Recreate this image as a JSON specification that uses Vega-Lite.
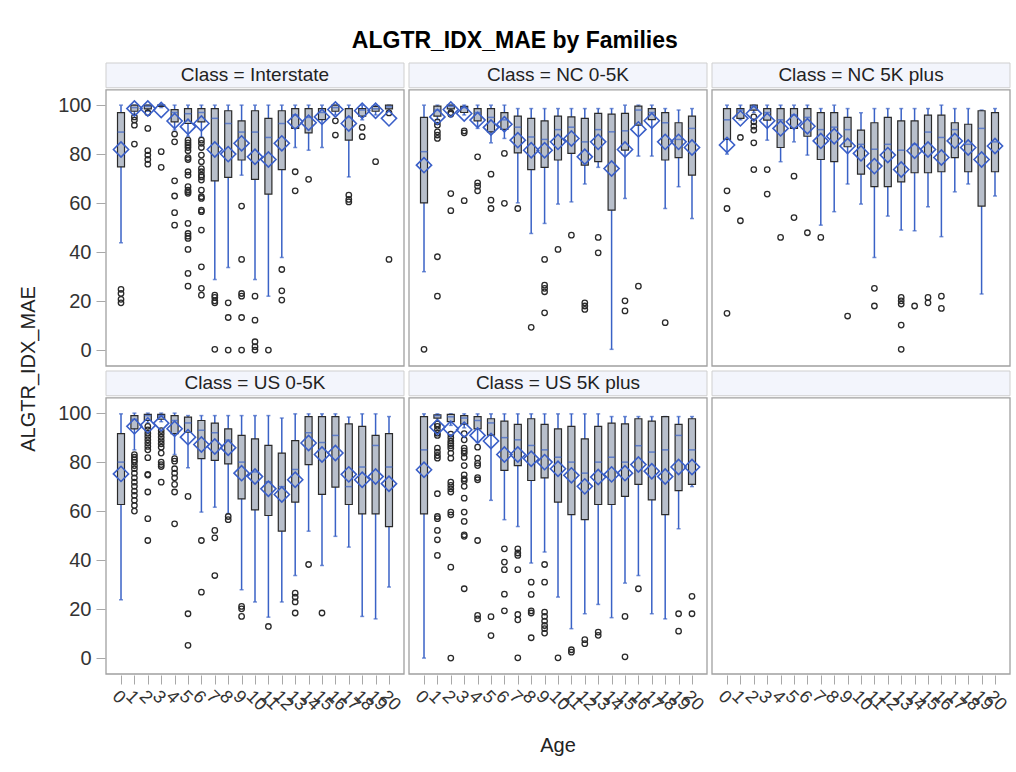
{
"$schema": "https://vega.github.io/schema/vega-lite/v6.json",
"background": "white",
"padding": {"left": 18, "top": 29, "right": 4, "bottom": 6},
"title": {"text": "ALGTR_IDX_MAE by Families", "fontSize": 23, "fontWeight": "bold", "font": "Liberation Sans", "color": "#000", "anchor": "middle", "frame": "bounds", "offset": 10},
"data": {"values": [
{"k":"s","c":"Interstate","lab":"Class = Interstate"},
{"k":"s","c":"NC 0-5K","lab":"Class = NC 0-5K"},
{"k":"s","c":"NC 5K plus","lab":"Class = NC 5K plus"},
{"k":"s","c":"US 0-5K","lab":"Class = US 0-5K"},
{"k":"s","c":"US 5K plus","lab":"Class = US 5K plus"},
{"k":"s","c":"","lab":""},
{"k":"b","c":"Interstate","a":0,"lo":43.8,"q1":74.8,"med":89,"q3":96.9,"hi":100,"mean":81.9},
{"k":"b","c":"Interstate","a":1,"lo":96,"q1":97.5,"med":99,"q3":100,"hi":100,"mean":98.6},
{"k":"b","c":"Interstate","a":2,"lo":97.5,"q1":98.5,"med":99.5,"q3":100,"hi":100,"mean":98.6},
{"k":"b","c":"Interstate","a":3,"lo":99,"q1":99.5,"med":100,"q3":100,"hi":100,"mean":98},
{"k":"b","c":"Interstate","a":4,"lo":89.8,"q1":93.2,"med":97,"q3":98.2,"hi":100,"mean":93.5},
{"k":"b","c":"Interstate","a":5,"lo":87.3,"q1":92.5,"med":96.5,"q3":98.6,"hi":100,"mean":91.2},
{"k":"b","c":"Interstate","a":6,"lo":87,"q1":93.2,"med":97,"q3":98.6,"hi":100,"mean":92.5},
{"k":"b","c":"Interstate","a":7,"lo":28.8,"q1":69.1,"med":94.6,"q3":98.6,"hi":100,"mean":81.9},
{"k":"b","c":"Interstate","a":8,"lo":33.7,"q1":70.5,"med":92.5,"q3":97.7,"hi":100,"mean":80},
{"k":"b","c":"Interstate","a":9,"lo":71.4,"q1":77.6,"med":89,"q3":93.6,"hi":100,"mean":84.4},
{"k":"b","c":"Interstate","a":10,"lo":28.8,"q1":69.7,"med":89,"q3":97.7,"hi":100,"mean":78.9},
{"k":"b","c":"Interstate","a":11,"lo":22,"q1":63.7,"med":86.8,"q3":94.6,"hi":100,"mean":77.8},
{"k":"b","c":"Interstate","a":12,"lo":37.8,"q1":73.7,"med":92.5,"q3":97.7,"hi":100,"mean":84.4},
{"k":"b","c":"Interstate","a":13,"lo":82.7,"q1":90.5,"med":96,"q3":98.6,"hi":100,"mean":93.2},
{"k":"b","c":"Interstate","a":14,"lo":81.6,"q1":88.7,"med":95,"q3":98.6,"hi":100,"mean":92.8},
{"k":"b","c":"Interstate","a":15,"lo":82.7,"q1":94.1,"med":97,"q3":98.6,"hi":100,"mean":95.2},
{"k":"b","c":"Interstate","a":16,"lo":96,"q1":97.5,"med":99,"q3":100,"hi":100,"mean":98.2},
{"k":"b","c":"Interstate","a":17,"lo":70.7,"q1":85.7,"med":95,"q3":98.6,"hi":100,"mean":92.5},
{"k":"b","c":"Interstate","a":18,"lo":94,"q1":95.5,"med":98,"q3":98.6,"hi":100,"mean":97.7},
{"k":"b","c":"Interstate","a":19,"lo":96,"q1":97.5,"med":98.5,"q3":99.5,"hi":100,"mean":97.7},
{"k":"b","c":"Interstate","a":20,"lo":97.5,"q1":98.5,"med":99.3,"q3":100,"hi":100,"mean":94.6},
{"k":"b","c":"NC 0-5K","a":0,"lo":32,"q1":60.1,"med":81,"q3":95,"hi":100,"mean":75.5},
{"k":"b","c":"NC 0-5K","a":1,"lo":94,"q1":95.5,"med":98,"q3":99.6,"hi":100,"mean":95.2},
{"k":"b","c":"NC 0-5K","a":2,"lo":98,"q1":98.5,"med":99.5,"q3":100,"hi":100,"mean":98.2},
{"k":"b","c":"NC 0-5K","a":3,"lo":96,"q1":97,"med":99,"q3":99.5,"hi":100,"mean":96.6},
{"k":"b","c":"NC 0-5K","a":4,"lo":90.5,"q1":93.6,"med":97,"q3":98.6,"hi":100,"mean":93.9},
{"k":"b","c":"NC 0-5K","a":5,"lo":84.6,"q1":89.1,"med":95,"q3":98.6,"hi":100,"mean":90.9},
{"k":"b","c":"NC 0-5K","a":6,"lo":86.4,"q1":90.1,"med":94,"q3":96.9,"hi":100,"mean":92.2},
{"k":"b","c":"NC 0-5K","a":7,"lo":60.1,"q1":80.5,"med":91,"q3":95.5,"hi":98.6,"mean":85.7},
{"k":"b","c":"NC 0-5K","a":8,"lo":47.6,"q1":73.7,"med":87,"q3":94.6,"hi":98.6,"mean":81.6},
{"k":"b","c":"NC 0-5K","a":9,"lo":51.7,"q1":74.6,"med":86,"q3":93.6,"hi":98.6,"mean":81.6},
{"k":"b","c":"NC 0-5K","a":10,"lo":59.6,"q1":77.6,"med":90,"q3":95.5,"hi":98.6,"mean":85},
{"k":"b","c":"NC 0-5K","a":11,"lo":60.5,"q1":80.3,"med":91,"q3":95.2,"hi":98.6,"mean":86.4},
{"k":"b","c":"NC 0-5K","a":12,"lo":67.8,"q1":75.5,"med":85,"q3":94.6,"hi":98.6,"mean":78.9},
{"k":"b","c":"NC 0-5K","a":13,"lo":74.6,"q1":76.9,"med":90,"q3":96.6,"hi":98.6,"mean":85},
{"k":"b","c":"NC 0-5K","a":14,"lo":0.3,"q1":57.1,"med":89.1,"q3":96.3,"hi":98.6,"mean":74.1},
{"k":"b","c":"NC 0-5K","a":15,"lo":61.9,"q1":81.6,"med":89.5,"q3":96.6,"hi":100,"mean":81.9},
{"k":"b","c":"NC 0-5K","a":16,"lo":79.2,"q1":91.8,"med":98,"q3":99.6,"hi":100,"mean":90.1},
{"k":"b","c":"NC 0-5K","a":17,"lo":79.2,"q1":94.1,"med":97,"q3":98.6,"hi":100,"mean":93.6},
{"k":"b","c":"NC 0-5K","a":18,"lo":57.8,"q1":77.6,"med":92.8,"q3":96.9,"hi":98.6,"mean":85},
{"k":"b","c":"NC 0-5K","a":19,"lo":66.7,"q1":78.6,"med":86,"q3":92.8,"hi":98,"mean":85},
{"k":"b","c":"NC 0-5K","a":20,"lo":53.7,"q1":71.4,"med":90.5,"q3":95.5,"hi":98.6,"mean":82.7},
{"k":"b","c":"NC 5K plus","a":0,"lo":80,"q1":86,"med":94,"q3":98.6,"hi":100,"mean":83.7},
{"k":"b","c":"NC 5K plus","a":1,"lo":94,"q1":94.6,"med":98,"q3":98.6,"hi":100,"mean":94.6},
{"k":"b","c":"NC 5K plus","a":2,"lo":97,"q1":98,"med":99.5,"q3":100,"hi":100,"mean":96.6},
{"k":"b","c":"NC 5K plus","a":3,"lo":85.7,"q1":93.9,"med":97,"q3":98.6,"hi":100,"mean":93.6},
{"k":"b","c":"NC 5K plus","a":4,"lo":76.9,"q1":82.7,"med":94,"q3":98.6,"hi":100,"mean":90.5},
{"k":"b","c":"NC 5K plus","a":5,"lo":85,"q1":90.5,"med":96,"q3":98.6,"hi":100,"mean":93.2},
{"k":"b","c":"NC 5K plus","a":6,"lo":79.6,"q1":87.3,"med":95,"q3":98.6,"hi":100,"mean":91.4},
{"k":"b","c":"NC 5K plus","a":7,"lo":51,"q1":77.8,"med":90,"q3":96.9,"hi":98.6,"mean":85.4},
{"k":"b","c":"NC 5K plus","a":8,"lo":56.5,"q1":76.9,"med":91,"q3":96.9,"hi":100,"mean":87.3},
{"k":"b","c":"NC 5K plus","a":9,"lo":67.8,"q1":83,"med":90,"q3":95,"hi":98.6,"mean":83.3},
{"k":"b","c":"NC 5K plus","a":10,"lo":59.6,"q1":71.8,"med":84,"q3":89.8,"hi":96.9,"mean":80.3},
{"k":"b","c":"NC 5K plus","a":11,"lo":37.8,"q1":66.7,"med":82,"q3":92.8,"hi":98.6,"mean":75.1},
{"k":"b","c":"NC 5K plus","a":12,"lo":54.7,"q1":66.7,"med":84,"q3":95,"hi":98.6,"mean":79.6},
{"k":"b","c":"NC 5K plus","a":13,"lo":49,"q1":68.7,"med":81.6,"q3":93.6,"hi":98.6,"mean":73.7},
{"k":"b","c":"NC 5K plus","a":14,"lo":48.7,"q1":72.4,"med":84,"q3":93.6,"hi":98.6,"mean":81.4},
{"k":"b","c":"NC 5K plus","a":15,"lo":58.5,"q1":72.4,"med":89,"q3":95.9,"hi":98.6,"mean":81.9},
{"k":"b","c":"NC 5K plus","a":16,"lo":46.3,"q1":72.8,"med":86.8,"q3":95.9,"hi":100,"mean":78.6},
{"k":"b","c":"NC 5K plus","a":17,"lo":64.6,"q1":78.6,"med":90,"q3":92.8,"hi":98.6,"mean":85.4},
{"k":"b","c":"NC 5K plus","a":18,"lo":67.8,"q1":72.8,"med":84,"q3":92.2,"hi":98.6,"mean":82.7},
{"k":"b","c":"NC 5K plus","a":19,"lo":22.9,"q1":58.8,"med":90.5,"q3":97.7,"hi":98,"mean":77.8},
{"k":"b","c":"NC 5K plus","a":20,"lo":62.9,"q1":72.8,"med":85,"q3":96.9,"hi":98.6,"mean":83.3},
{"k":"b","c":"US 0-5K","a":0,"lo":23.8,"q1":62.7,"med":80,"q3":91.6,"hi":99.7,"mean":75.2},
{"k":"b","c":"US 0-5K","a":1,"lo":85,"q1":93.6,"med":97.5,"q3":99,"hi":100,"mean":94.6},
{"k":"b","c":"US 0-5K","a":2,"lo":96,"q1":97,"med":99,"q3":99.5,"hi":100,"mean":95},
{"k":"b","c":"US 0-5K","a":3,"lo":96.5,"q1":97.5,"med":99,"q3":99.5,"hi":100,"mean":95.9},
{"k":"b","c":"US 0-5K","a":4,"lo":83.1,"q1":91.6,"med":97,"q3":99,"hi":100,"mean":93.6},
{"k":"b","c":"US 0-5K","a":5,"lo":77.7,"q1":92.2,"med":96,"q3":98.4,"hi":99,"mean":90.2},
{"k":"b","c":"US 0-5K","a":6,"lo":59.6,"q1":81.4,"med":93,"q3":97,"hi":99,"mean":87.2},
{"k":"b","c":"US 0-5K","a":7,"lo":61.6,"q1":80.7,"med":92,"q3":95.9,"hi":99,"mean":86.4},
{"k":"b","c":"US 0-5K","a":8,"lo":59,"q1":79.3,"med":89,"q3":93.6,"hi":99,"mean":85.9},
{"k":"b","c":"US 0-5K","a":9,"lo":27.9,"q1":65,"med":80,"q3":90.9,"hi":99,"mean":75.5},
{"k":"b","c":"US 0-5K","a":10,"lo":22.9,"q1":60.5,"med":76,"q3":89.5,"hi":99,"mean":74.1},
{"k":"b","c":"US 0-5K","a":11,"lo":16.7,"q1":58.2,"med":72,"q3":86.8,"hi":99,"mean":69.1},
{"k":"b","c":"US 0-5K","a":12,"lo":22.9,"q1":51.8,"med":70,"q3":83.7,"hi":98,"mean":66.8},
{"k":"b","c":"US 0-5K","a":13,"lo":33.7,"q1":63.7,"med":77,"q3":88.8,"hi":99.7,"mean":72.8},
{"k":"b","c":"US 0-5K","a":14,"lo":51.8,"q1":79,"med":92,"q3":98.6,"hi":99.7,"mean":87.8},
{"k":"b","c":"US 0-5K","a":15,"lo":37.8,"q1":66.8,"med":88,"q3":98.6,"hi":99.7,"mean":83.1},
{"k":"b","c":"US 0-5K","a":16,"lo":49.7,"q1":69.8,"med":90.9,"q3":98.6,"hi":99.7,"mean":83.7},
{"k":"b","c":"US 0-5K","a":17,"lo":45.3,"q1":62.7,"med":70,"q3":95.6,"hi":98.4,"mean":75},
{"k":"b","c":"US 0-5K","a":18,"lo":17,"q1":58.9,"med":78,"q3":94.6,"hi":99.7,"mean":72.8},
{"k":"b","c":"US 0-5K","a":19,"lo":16,"q1":58.9,"med":86.8,"q3":90.9,"hi":99.7,"mean":74.1},
{"k":"b","c":"US 0-5K","a":20,"lo":29,"q1":53.7,"med":78,"q3":91.6,"hi":98.6,"mean":71.2},
{"k":"b","c":"US 5K plus","a":0,"lo":0,"q1":58.9,"med":85,"q3":98.6,"hi":99.7,"mean":76.9},
{"k":"b","c":"US 5K plus","a":1,"lo":97,"q1":98,"med":99,"q3":99.3,"hi":99.7,"mean":94.3},
{"k":"b","c":"US 5K plus","a":2,"lo":95,"q1":96.5,"med":98.5,"q3":99.5,"hi":99.7,"mean":93.6},
{"k":"b","c":"US 5K plus","a":3,"lo":94,"q1":95.5,"med":98,"q3":99,"hi":99.7,"mean":93.2},
{"k":"b","c":"US 5K plus","a":4,"lo":88,"q1":93.6,"med":97,"q3":98.6,"hi":99.7,"mean":90.9},
{"k":"b","c":"US 5K plus","a":5,"lo":64.4,"q1":91,"med":96,"q3":97.7,"hi":99.7,"mean":88.6},
{"k":"b","c":"US 5K plus","a":6,"lo":56.5,"q1":76.6,"med":90,"q3":96.7,"hi":99.7,"mean":83.1},
{"k":"b","c":"US 5K plus","a":7,"lo":53.7,"q1":78.6,"med":89.1,"q3":95.4,"hi":99.7,"mean":83.1},
{"k":"b","c":"US 5K plus","a":8,"lo":38.8,"q1":72.5,"med":86.8,"q3":97.7,"hi":99.7,"mean":81.4},
{"k":"b","c":"US 5K plus","a":9,"lo":43.3,"q1":73.6,"med":85,"q3":95.4,"hi":99.7,"mean":80},
{"k":"b","c":"US 5K plus","a":10,"lo":24.9,"q1":63.7,"med":82,"q3":93.6,"hi":99.7,"mean":77.3},
{"k":"b","c":"US 5K plus","a":11,"lo":12,"q1":58.6,"med":80,"q3":94.6,"hi":99.7,"mean":74.6},
{"k":"b","c":"US 5K plus","a":12,"lo":18.1,"q1":56.5,"med":75.5,"q3":89.5,"hi":99.7,"mean":70.1},
{"k":"b","c":"US 5K plus","a":13,"lo":21.9,"q1":62.7,"med":80,"q3":94.6,"hi":99.7,"mean":73.9},
{"k":"b","c":"US 5K plus","a":14,"lo":16.5,"q1":62.7,"med":82,"q3":95.9,"hi":98.6,"mean":75},
{"k":"b","c":"US 5K plus","a":15,"lo":30.6,"q1":66,"med":80,"q3":95.6,"hi":98.6,"mean":75.5},
{"k":"b","c":"US 5K plus","a":16,"lo":33.7,"q1":70.9,"med":86.7,"q3":97.7,"hi":98.6,"mean":79},
{"k":"b","c":"US 5K plus","a":17,"lo":18.1,"q1":64.6,"med":84.1,"q3":96.7,"hi":98.6,"mean":76.3},
{"k":"b","c":"US 5K plus","a":18,"lo":16,"q1":58.6,"med":85,"q3":98.6,"hi":98.6,"mean":74.1},
{"k":"b","c":"US 5K plus","a":19,"lo":52.8,"q1":68.4,"med":90.9,"q3":95.4,"hi":98.6,"mean":78},
{"k":"b","c":"US 5K plus","a":20,"lo":70,"q1":70.9,"med":85,"q3":97.7,"hi":98.6,"mean":78},
{"k":"o","c":"Interstate","a":0,"v":24.8},{"k":"o","c":"Interstate","a":0,"v":23.1},{"k":"o","c":"Interstate","a":0,"v":20.7},{"k":"o","c":"Interstate","a":0,"v":19.3},
{"k":"o","c":"Interstate","a":1,"v":95.2},{"k":"o","c":"Interstate","a":1,"v":93.9},{"k":"o","c":"Interstate","a":1,"v":91.8},{"k":"o","c":"Interstate","a":1,"v":84.1},
{"k":"o","c":"Interstate","a":2,"v":96.9},{"k":"o","c":"Interstate","a":2,"v":90.5},{"k":"o","c":"Interstate","a":2,"v":81.4},{"k":"o","c":"Interstate","a":2,"v":79.6},{"k":"o","c":"Interstate","a":2,"v":77.8},{"k":"o","c":"Interstate","a":2,"v":75.9},
{"k":"o","c":"Interstate","a":3,"v":81},{"k":"o","c":"Interstate","a":3,"v":74.6},
{"k":"o","c":"Interstate","a":4,"v":88.2},{"k":"o","c":"Interstate","a":4,"v":85},{"k":"o","c":"Interstate","a":4,"v":69.1},{"k":"o","c":"Interstate","a":4,"v":62.9},{"k":"o","c":"Interstate","a":4,"v":56.1},{"k":"o","c":"Interstate","a":4,"v":51},
{"k":"o","c":"Interstate","a":5,"v":85.7},{"k":"o","c":"Interstate","a":5,"v":84.6},{"k":"o","c":"Interstate","a":5,"v":83.7},{"k":"o","c":"Interstate","a":5,"v":82.7},{"k":"o","c":"Interstate","a":5,"v":81.4},{"k":"o","c":"Interstate","a":5,"v":78.6},{"k":"o","c":"Interstate","a":5,"v":77.8},{"k":"o","c":"Interstate","a":5,"v":72.8},{"k":"o","c":"Interstate","a":5,"v":71.4},{"k":"o","c":"Interstate","a":5,"v":66.7},{"k":"o","c":"Interstate","a":5,"v":65.3},{"k":"o","c":"Interstate","a":5,"v":64.6},{"k":"o","c":"Interstate","a":5,"v":64},{"k":"o","c":"Interstate","a":5,"v":51.7},{"k":"o","c":"Interstate","a":5,"v":47.6},{"k":"o","c":"Interstate","a":5,"v":46.5},{"k":"o","c":"Interstate","a":5,"v":45.6},{"k":"o","c":"Interstate","a":5,"v":41.1},{"k":"o","c":"Interstate","a":5,"v":31.3},{"k":"o","c":"Interstate","a":5,"v":26.1},
{"k":"o","c":"Interstate","a":6,"v":85.7},{"k":"o","c":"Interstate","a":6,"v":84.4},{"k":"o","c":"Interstate","a":6,"v":82.7},{"k":"o","c":"Interstate","a":6,"v":79.6},{"k":"o","c":"Interstate","a":6,"v":76.9},{"k":"o","c":"Interstate","a":6,"v":74.1},{"k":"o","c":"Interstate","a":6,"v":72.8},{"k":"o","c":"Interstate","a":6,"v":71.4},{"k":"o","c":"Interstate","a":6,"v":70.7},{"k":"o","c":"Interstate","a":6,"v":69.4},{"k":"o","c":"Interstate","a":6,"v":65.3},{"k":"o","c":"Interstate","a":6,"v":62.6},{"k":"o","c":"Interstate","a":6,"v":61.9},{"k":"o","c":"Interstate","a":6,"v":57.1},{"k":"o","c":"Interstate","a":6,"v":56.5},{"k":"o","c":"Interstate","a":6,"v":49},{"k":"o","c":"Interstate","a":6,"v":34},{"k":"o","c":"Interstate","a":6,"v":25.2},{"k":"o","c":"Interstate","a":6,"v":22.4},
{"k":"o","c":"Interstate","a":7,"v":22.4},{"k":"o","c":"Interstate","a":7,"v":21.5},{"k":"o","c":"Interstate","a":7,"v":20.1},{"k":"o","c":"Interstate","a":7,"v":19.3},{"k":"o","c":"Interstate","a":7,"v":0.3},
{"k":"o","c":"Interstate","a":8,"v":19.3},{"k":"o","c":"Interstate","a":8,"v":13.3},{"k":"o","c":"Interstate","a":8,"v":0},
{"k":"o","c":"Interstate","a":9,"v":58.8},{"k":"o","c":"Interstate","a":9,"v":37},{"k":"o","c":"Interstate","a":9,"v":23.1},{"k":"o","c":"Interstate","a":9,"v":22},{"k":"o","c":"Interstate","a":9,"v":13.3},{"k":"o","c":"Interstate","a":9,"v":0},
{"k":"o","c":"Interstate","a":10,"v":22},{"k":"o","c":"Interstate","a":10,"v":12.2},{"k":"o","c":"Interstate","a":10,"v":3.4},{"k":"o","c":"Interstate","a":10,"v":1.4},{"k":"o","c":"Interstate","a":10,"v":0},
{"k":"o","c":"Interstate","a":11,"v":0},
{"k":"o","c":"Interstate","a":12,"v":32.9},{"k":"o","c":"Interstate","a":12,"v":24.2},{"k":"o","c":"Interstate","a":12,"v":20.4},
{"k":"o","c":"Interstate","a":13,"v":72.8},{"k":"o","c":"Interstate","a":13,"v":65},
{"k":"o","c":"Interstate","a":14,"v":69.7},
{"k":"o","c":"Interstate","a":16,"v":93.6},{"k":"o","c":"Interstate","a":16,"v":87.8},
{"k":"o","c":"Interstate","a":17,"v":63.3},{"k":"o","c":"Interstate","a":17,"v":61.5},{"k":"o","c":"Interstate","a":17,"v":60.5},
{"k":"o","c":"Interstate","a":18,"v":90.9},{"k":"o","c":"Interstate","a":18,"v":87.1},
{"k":"o","c":"Interstate","a":19,"v":76.9},
{"k":"o","c":"Interstate","a":20,"v":96.8},{"k":"o","c":"Interstate","a":20,"v":37},
{"k":"o","c":"NC 0-5K","a":0,"v":0.3},
{"k":"o","c":"NC 0-5K","a":1,"v":93.2},{"k":"o","c":"NC 0-5K","a":1,"v":91.8},{"k":"o","c":"NC 0-5K","a":1,"v":89.1},{"k":"o","c":"NC 0-5K","a":1,"v":87.8},{"k":"o","c":"NC 0-5K","a":1,"v":86.4},{"k":"o","c":"NC 0-5K","a":1,"v":38.1},{"k":"o","c":"NC 0-5K","a":1,"v":22},
{"k":"o","c":"NC 0-5K","a":2,"v":96.9},{"k":"o","c":"NC 0-5K","a":2,"v":96.3},{"k":"o","c":"NC 0-5K","a":2,"v":63.9},{"k":"o","c":"NC 0-5K","a":2,"v":56.9},
{"k":"o","c":"NC 0-5K","a":3,"v":89.5},{"k":"o","c":"NC 0-5K","a":3,"v":88.7},{"k":"o","c":"NC 0-5K","a":3,"v":61},
{"k":"o","c":"NC 0-5K","a":4,"v":78.9},{"k":"o","c":"NC 0-5K","a":4,"v":68.3},{"k":"o","c":"NC 0-5K","a":4,"v":66.9},{"k":"o","c":"NC 0-5K","a":4,"v":65},
{"k":"o","c":"NC 0-5K","a":5,"v":71.8},{"k":"o","c":"NC 0-5K","a":5,"v":61.2},{"k":"o","c":"NC 0-5K","a":5,"v":57.8},
{"k":"o","c":"NC 0-5K","a":6,"v":80.3},{"k":"o","c":"NC 0-5K","a":6,"v":59.9},
{"k":"o","c":"NC 0-5K","a":7,"v":57.8},
{"k":"o","c":"NC 0-5K","a":8,"v":9.3},
{"k":"o","c":"NC 0-5K","a":9,"v":37},{"k":"o","c":"NC 0-5K","a":9,"v":26.5},{"k":"o","c":"NC 0-5K","a":9,"v":25.2},{"k":"o","c":"NC 0-5K","a":9,"v":23.8},{"k":"o","c":"NC 0-5K","a":9,"v":15.2},
{"k":"o","c":"NC 0-5K","a":10,"v":41.1},
{"k":"o","c":"NC 0-5K","a":11,"v":46.9},
{"k":"o","c":"NC 0-5K","a":12,"v":19.3},{"k":"o","c":"NC 0-5K","a":12,"v":18},{"k":"o","c":"NC 0-5K","a":12,"v":16.6},
{"k":"o","c":"NC 0-5K","a":13,"v":46},{"k":"o","c":"NC 0-5K","a":13,"v":39.7},
{"k":"o","c":"NC 0-5K","a":15,"v":20.1},{"k":"o","c":"NC 0-5K","a":15,"v":16},
{"k":"o","c":"NC 0-5K","a":16,"v":26.1},
{"k":"o","c":"NC 0-5K","a":18,"v":11.2},
{"k":"o","c":"NC 5K plus","a":0,"v":65},{"k":"o","c":"NC 5K plus","a":0,"v":57.8},{"k":"o","c":"NC 5K plus","a":0,"v":15},
{"k":"o","c":"NC 5K plus","a":1,"v":86.8},{"k":"o","c":"NC 5K plus","a":1,"v":52.8},
{"k":"o","c":"NC 5K plus","a":2,"v":95.2},{"k":"o","c":"NC 5K plus","a":2,"v":93.2},{"k":"o","c":"NC 5K plus","a":2,"v":91.4},{"k":"o","c":"NC 5K plus","a":2,"v":89.8},{"k":"o","c":"NC 5K plus","a":2,"v":84.6},{"k":"o","c":"NC 5K plus","a":2,"v":73.7},
{"k":"o","c":"NC 5K plus","a":3,"v":73.7},{"k":"o","c":"NC 5K plus","a":3,"v":63.7},
{"k":"o","c":"NC 5K plus","a":4,"v":46},
{"k":"o","c":"NC 5K plus","a":5,"v":71},{"k":"o","c":"NC 5K plus","a":5,"v":54.1},
{"k":"o","c":"NC 5K plus","a":6,"v":47.9},
{"k":"o","c":"NC 5K plus","a":7,"v":46},
{"k":"o","c":"NC 5K plus","a":9,"v":13.9},
{"k":"o","c":"NC 5K plus","a":11,"v":25.2},{"k":"o","c":"NC 5K plus","a":11,"v":18},
{"k":"o","c":"NC 5K plus","a":13,"v":21.5},{"k":"o","c":"NC 5K plus","a":13,"v":20.1},{"k":"o","c":"NC 5K plus","a":13,"v":18.8},{"k":"o","c":"NC 5K plus","a":13,"v":10.2},{"k":"o","c":"NC 5K plus","a":13,"v":0.3},
{"k":"o","c":"NC 5K plus","a":14,"v":18},
{"k":"o","c":"NC 5K plus","a":15,"v":21.5},{"k":"o","c":"NC 5K plus","a":15,"v":19.3},
{"k":"o","c":"NC 5K plus","a":16,"v":22},{"k":"o","c":"NC 5K plus","a":16,"v":17},
{"k":"o","c":"US 0-5K","a":1,"v":83.1},{"k":"o","c":"US 0-5K","a":1,"v":82},{"k":"o","c":"US 0-5K","a":1,"v":80.9},{"k":"o","c":"US 0-5K","a":1,"v":80},{"k":"o","c":"US 0-5K","a":1,"v":78.6},{"k":"o","c":"US 0-5K","a":1,"v":77.3},{"k":"o","c":"US 0-5K","a":1,"v":75.5},{"k":"o","c":"US 0-5K","a":1,"v":73.6},{"k":"o","c":"US 0-5K","a":1,"v":71.8},{"k":"o","c":"US 0-5K","a":1,"v":70.1},{"k":"o","c":"US 0-5K","a":1,"v":68.2},{"k":"o","c":"US 0-5K","a":1,"v":66.4},{"k":"o","c":"US 0-5K","a":1,"v":64.4},{"k":"o","c":"US 0-5K","a":1,"v":62.3},{"k":"o","c":"US 0-5K","a":1,"v":60},
{"k":"o","c":"US 0-5K","a":2,"v":94.6},{"k":"o","c":"US 0-5K","a":2,"v":93.2},{"k":"o","c":"US 0-5K","a":2,"v":91.8},{"k":"o","c":"US 0-5K","a":2,"v":90.5},{"k":"o","c":"US 0-5K","a":2,"v":89.1},{"k":"o","c":"US 0-5K","a":2,"v":87.8},{"k":"o","c":"US 0-5K","a":2,"v":86.4},{"k":"o","c":"US 0-5K","a":2,"v":85},{"k":"o","c":"US 0-5K","a":2,"v":81.8},{"k":"o","c":"US 0-5K","a":2,"v":75},{"k":"o","c":"US 0-5K","a":2,"v":74.7},{"k":"o","c":"US 0-5K","a":2,"v":67.8},{"k":"o","c":"US 0-5K","a":2,"v":56.9},{"k":"o","c":"US 0-5K","a":2,"v":48},
{"k":"o","c":"US 0-5K","a":3,"v":92.9},{"k":"o","c":"US 0-5K","a":3,"v":91.6},{"k":"o","c":"US 0-5K","a":3,"v":90.2},{"k":"o","c":"US 0-5K","a":3,"v":88.8},{"k":"o","c":"US 0-5K","a":3,"v":87.5},{"k":"o","c":"US 0-5K","a":3,"v":86.1},{"k":"o","c":"US 0-5K","a":3,"v":83.7},{"k":"o","c":"US 0-5K","a":3,"v":80},{"k":"o","c":"US 0-5K","a":3,"v":79},{"k":"o","c":"US 0-5K","a":3,"v":78.2},{"k":"o","c":"US 0-5K","a":3,"v":71.8},
{"k":"o","c":"US 0-5K","a":4,"v":81.4},{"k":"o","c":"US 0-5K","a":4,"v":80.4},{"k":"o","c":"US 0-5K","a":4,"v":77.3},{"k":"o","c":"US 0-5K","a":4,"v":75.5},{"k":"o","c":"US 0-5K","a":4,"v":73.6},{"k":"o","c":"US 0-5K","a":4,"v":70.9},{"k":"o","c":"US 0-5K","a":4,"v":67.8},{"k":"o","c":"US 0-5K","a":4,"v":54.8},
{"k":"o","c":"US 0-5K","a":5,"v":66},{"k":"o","c":"US 0-5K","a":5,"v":18.1},{"k":"o","c":"US 0-5K","a":5,"v":5.2},
{"k":"o","c":"US 0-5K","a":6,"v":48},{"k":"o","c":"US 0-5K","a":6,"v":26.9},
{"k":"o","c":"US 0-5K","a":7,"v":52.1},{"k":"o","c":"US 0-5K","a":7,"v":49.1},{"k":"o","c":"US 0-5K","a":7,"v":33.7},
{"k":"o","c":"US 0-5K","a":8,"v":57.8},{"k":"o","c":"US 0-5K","a":8,"v":56.5},
{"k":"o","c":"US 0-5K","a":9,"v":21.1},{"k":"o","c":"US 0-5K","a":9,"v":20.1},{"k":"o","c":"US 0-5K","a":9,"v":17},
{"k":"o","c":"US 0-5K","a":11,"v":12.9},
{"k":"o","c":"US 0-5K","a":13,"v":26.5},{"k":"o","c":"US 0-5K","a":13,"v":24.9},{"k":"o","c":"US 0-5K","a":13,"v":22.9},{"k":"o","c":"US 0-5K","a":13,"v":18.4},
{"k":"o","c":"US 0-5K","a":14,"v":38.2},
{"k":"o","c":"US 0-5K","a":15,"v":18.4},
{"k":"o","c":"US 5K plus","a":1,"v":95.6},{"k":"o","c":"US 5K plus","a":1,"v":94.6},{"k":"o","c":"US 5K plus","a":1,"v":93.2},{"k":"o","c":"US 5K plus","a":1,"v":91.8},{"k":"o","c":"US 5K plus","a":1,"v":90.9},{"k":"o","c":"US 5K plus","a":1,"v":85.7},{"k":"o","c":"US 5K plus","a":1,"v":84.1},{"k":"o","c":"US 5K plus","a":1,"v":82.7},{"k":"o","c":"US 5K plus","a":1,"v":81.6},{"k":"o","c":"US 5K plus","a":1,"v":67.1},{"k":"o","c":"US 5K plus","a":1,"v":57.8},{"k":"o","c":"US 5K plus","a":1,"v":56.9},{"k":"o","c":"US 5K plus","a":1,"v":52.1},{"k":"o","c":"US 5K plus","a":1,"v":48.3},{"k":"o","c":"US 5K plus","a":1,"v":41.9},
{"k":"o","c":"US 5K plus","a":2,"v":91.4},{"k":"o","c":"US 5K plus","a":2,"v":90},{"k":"o","c":"US 5K plus","a":2,"v":88.6},{"k":"o","c":"US 5K plus","a":2,"v":87.6},{"k":"o","c":"US 5K plus","a":2,"v":86.7},{"k":"o","c":"US 5K plus","a":2,"v":85.7},{"k":"o","c":"US 5K plus","a":2,"v":83.7},{"k":"o","c":"US 5K plus","a":2,"v":81.6},{"k":"o","c":"US 5K plus","a":2,"v":71.8},{"k":"o","c":"US 5K plus","a":2,"v":70.5},{"k":"o","c":"US 5K plus","a":2,"v":69.1},{"k":"o","c":"US 5K plus","a":2,"v":67.8},{"k":"o","c":"US 5K plus","a":2,"v":59.6},{"k":"o","c":"US 5K plus","a":2,"v":58.5},{"k":"o","c":"US 5K plus","a":2,"v":37.1},{"k":"o","c":"US 5K plus","a":2,"v":0},
{"k":"o","c":"US 5K plus","a":3,"v":91.6},{"k":"o","c":"US 5K plus","a":3,"v":89.1},{"k":"o","c":"US 5K plus","a":3,"v":85.7},{"k":"o","c":"US 5K plus","a":3,"v":84.6},{"k":"o","c":"US 5K plus","a":3,"v":83.7},{"k":"o","c":"US 5K plus","a":3,"v":81.9},{"k":"o","c":"US 5K plus","a":3,"v":78.6},{"k":"o","c":"US 5K plus","a":3,"v":74.8},{"k":"o","c":"US 5K plus","a":3,"v":73.2},{"k":"o","c":"US 5K plus","a":3,"v":72.4},{"k":"o","c":"US 5K plus","a":3,"v":70.1},{"k":"o","c":"US 5K plus","a":3,"v":65.3},{"k":"o","c":"US 5K plus","a":3,"v":59.6},{"k":"o","c":"US 5K plus","a":3,"v":55.8},{"k":"o","c":"US 5K plus","a":3,"v":50.3},{"k":"o","c":"US 5K plus","a":3,"v":49.7},{"k":"o","c":"US 5K plus","a":3,"v":28.3},
{"k":"o","c":"US 5K plus","a":4,"v":86.1},{"k":"o","c":"US 5K plus","a":4,"v":81.6},{"k":"o","c":"US 5K plus","a":4,"v":79.6},{"k":"o","c":"US 5K plus","a":4,"v":78.6},{"k":"o","c":"US 5K plus","a":4,"v":73.7},{"k":"o","c":"US 5K plus","a":4,"v":72.8},{"k":"o","c":"US 5K plus","a":4,"v":48},{"k":"o","c":"US 5K plus","a":4,"v":17.4},{"k":"o","c":"US 5K plus","a":4,"v":16},
{"k":"o","c":"US 5K plus","a":5,"v":16.9},{"k":"o","c":"US 5K plus","a":5,"v":9.2},
{"k":"o","c":"US 5K plus","a":6,"v":44.6},{"k":"o","c":"US 5K plus","a":6,"v":39.2},{"k":"o","c":"US 5K plus","a":6,"v":36.1},{"k":"o","c":"US 5K plus","a":6,"v":26.1},{"k":"o","c":"US 5K plus","a":6,"v":19.3},
{"k":"o","c":"US 5K plus","a":7,"v":44.6},{"k":"o","c":"US 5K plus","a":7,"v":42.9},{"k":"o","c":"US 5K plus","a":7,"v":41.9},{"k":"o","c":"US 5K plus","a":7,"v":36.1},{"k":"o","c":"US 5K plus","a":7,"v":17.8},{"k":"o","c":"US 5K plus","a":7,"v":15.6},{"k":"o","c":"US 5K plus","a":7,"v":0.1},
{"k":"o","c":"US 5K plus","a":8,"v":31},{"k":"o","c":"US 5K plus","a":8,"v":26},{"k":"o","c":"US 5K plus","a":8,"v":19.3},{"k":"o","c":"US 5K plus","a":8,"v":18.4},{"k":"o","c":"US 5K plus","a":8,"v":8.3},
{"k":"o","c":"US 5K plus","a":9,"v":38.2},{"k":"o","c":"US 5K plus","a":9,"v":31},{"k":"o","c":"US 5K plus","a":9,"v":18.8},{"k":"o","c":"US 5K plus","a":9,"v":17},{"k":"o","c":"US 5K plus","a":9,"v":15.1},{"k":"o","c":"US 5K plus","a":9,"v":13.3},{"k":"o","c":"US 5K plus","a":9,"v":12},{"k":"o","c":"US 5K plus","a":9,"v":10.2},
{"k":"o","c":"US 5K plus","a":10,"v":0.1},
{"k":"o","c":"US 5K plus","a":11,"v":3.4},{"k":"o","c":"US 5K plus","a":11,"v":2.4},
{"k":"o","c":"US 5K plus","a":12,"v":7.5},{"k":"o","c":"US 5K plus","a":12,"v":5.9},
{"k":"o","c":"US 5K plus","a":13,"v":10.6},{"k":"o","c":"US 5K plus","a":13,"v":9.3},
{"k":"o","c":"US 5K plus","a":15,"v":17},{"k":"o","c":"US 5K plus","a":15,"v":0.5},
{"k":"o","c":"US 5K plus","a":16,"v":28.3},
{"k":"o","c":"US 5K plus","a":19,"v":18.1},{"k":"o","c":"US 5K plus","a":19,"v":11},
{"k":"o","c":"US 5K plus","a":20,"v":25.2},{"k":"o","c":"US 5K plus","a":20,"v":18.1}
]},
"transform": [
{"calculate": "(datum.c == 'Interstate' || datum.c == 'NC 0-5K' || datum.c == 'NC 5K plus') ? 'A' : 'B'", "as": "r"},
{"calculate": "(datum.c == 'Interstate' || datum.c == 'US 0-5K') ? 1 : ((datum.c == 'NC 0-5K' || datum.c == 'US 5K plus') ? 2 : 3)", "as": "col"}
],
"facet": {
"row": {"field": "r", "type": "nominal", "title": "ALGTR_IDX_MAE", "header": {"labels": false, "titleFont": "Liberation Sans", "titleFontSize": 20, "titleFontWeight": "normal", "titleColor": "#222", "titlePadding": 8}},
"column": {"field": "col", "type": "ordinal", "title": "Age", "header": {"labels": false, "titleOrient": "bottom", "titleFont": "Liberation Sans", "titleFontSize": 20, "titleFontWeight": "normal", "titleColor": "#222", "titlePadding": 12}}
},
"spacing": {"row": 3, "column": 3},
"spec": {
"width": 298,
"height": 303,
"layer": [
{"transform": [{"filter": "datum.k == 's'"}],
 "mark": {"type": "rect", "fill": "transparent", "stroke": "#a0a0a0", "strokeWidth": 1.3},
 "encoding": {
  "x": {"datum": -1.12, "type": "quantitative", "title": null, "scale": {"domain": [-1.12, 21.12], "nice": false, "zero": false, "padding": 0},
        "axis": {"values": [0,1,2,3,4,5,6,7,8,9,10,11,12,13,14,15,16,17,18,19,20], "format": "d", "title": null, "labelAngle": 45, "labelAlign": "left", "labelBaseline": "top", "labelOverlap": false, "labelFlush": false, "labelBound": false, "tickSize": 9, "tickOffset": 0, "tickColor": "#a8a8a8", "domain": false, "grid": false, "labelFont": "Liberation Sans", "labelFontSize": 18, "labelColor": "#333", "labelPadding": 3}},
  "x2": {"datum": 21.12},
  "y": {"datum": -6.5, "type": "quantitative", "title": null, "scale": {"domain": [-6.5, 117.2], "nice": false, "zero": false, "padding": 0},
        "axis": {"values": [0,20,40,60,80,100], "title": null, "tickSize": 9, "tickColor": "#a8a8a8", "domain": false, "grid": false, "labelFont": "Liberation Sans", "labelFontSize": 20, "labelColor": "#333", "labelPadding": 5, "labelOverlap": false}},
  "y2": {"datum": 106.2}
 }},
{"transform": [{"filter": "datum.k == 's'"}],
 "mark": {"type": "rect", "fill": "#f3f5fc", "stroke": "#cfcfcf", "strokeWidth": 1},
 "encoding": {
  "x": {"datum": -1.12, "type": "quantitative", "title": null, "scale": {"domain": [-1.12, 21.12], "nice": false, "zero": false, "padding": 0},
        "axis": {"values": [0,1,2,3,4,5,6,7,8,9,10,11,12,13,14,15,16,17,18,19,20], "format": "d", "title": null, "labelAngle": 45, "labelAlign": "left", "labelBaseline": "top", "labelOverlap": false, "labelFlush": false, "labelBound": false, "tickSize": 9, "tickOffset": 0, "tickColor": "#a8a8a8", "domain": false, "grid": false, "labelFont": "Liberation Sans", "labelFontSize": 18, "labelColor": "#333", "labelPadding": 3}},
  "x2": {"datum": 21.12},
  "y": {"datum": 107.1, "type": "quantitative", "title": null, "scale": {"domain": [-6.5, 117.2], "nice": false, "zero": false, "padding": 0},
        "axis": {"values": [0,20,40,60,80,100], "title": null, "tickSize": 9, "tickColor": "#a8a8a8", "domain": false, "grid": false, "labelFont": "Liberation Sans", "labelFontSize": 20, "labelColor": "#333", "labelPadding": 5, "labelOverlap": false}},
  "y2": {"datum": 117.2}
 }},
{"transform": [{"filter": "datum.k == 's'"}],
 "mark": {"type": "text", "font": "Liberation Sans", "fontSize": 19, "color": "#222", "align": "center", "baseline": "middle"},
 "encoding": {
  "x": {"datum": 10, "type": "quantitative", "title": null, "scale": {"domain": [-1.12, 21.12], "nice": false, "zero": false, "padding": 0},
        "axis": {"values": [0,1,2,3,4,5,6,7,8,9,10,11,12,13,14,15,16,17,18,19,20], "format": "d", "title": null, "labelAngle": 45, "labelAlign": "left", "labelBaseline": "top", "labelOverlap": false, "labelFlush": false, "labelBound": false, "tickSize": 9, "tickOffset": 0, "tickColor": "#a8a8a8", "domain": false, "grid": false, "labelFont": "Liberation Sans", "labelFontSize": 18, "labelColor": "#333", "labelPadding": 3}},
  "y": {"datum": 112.1, "type": "quantitative", "title": null, "scale": {"domain": [-6.5, 117.2], "nice": false, "zero": false, "padding": 0},
        "axis": {"values": [0,20,40,60,80,100], "title": null, "tickSize": 9, "tickColor": "#a8a8a8", "domain": false, "grid": false, "labelFont": "Liberation Sans", "labelFontSize": 20, "labelColor": "#333", "labelPadding": 5, "labelOverlap": false}},
  "text": {"field": "lab", "type": "nominal"}
 }},
{"transform": [{"filter": "datum.k == 'b'"}],
 "mark": {"type": "rule", "color": "#3a62c6", "strokeWidth": 1.5},
 "encoding": {
  "x": {"field": "a", "type": "quantitative", "title": null, "scale": {"domain": [-1.12, 21.12], "nice": false, "zero": false, "padding": 0},
        "axis": {"values": [0,1,2,3,4,5,6,7,8,9,10,11,12,13,14,15,16,17,18,19,20], "format": "d", "title": null, "labelAngle": 45, "labelAlign": "left", "labelBaseline": "top", "labelOverlap": false, "labelFlush": false, "labelBound": false, "tickSize": 9, "tickOffset": 0, "tickColor": "#a8a8a8", "domain": false, "grid": false, "labelFont": "Liberation Sans", "labelFontSize": 18, "labelColor": "#333", "labelPadding": 3}},
  "y": {"field": "lo", "type": "quantitative", "title": null, "scale": {"domain": [-6.5, 117.2], "nice": false, "zero": false, "padding": 0},
        "axis": {"values": [0,20,40,60,80,100], "title": null, "tickSize": 9, "tickColor": "#a8a8a8", "domain": false, "grid": false, "labelFont": "Liberation Sans", "labelFontSize": 20, "labelColor": "#333", "labelPadding": 5, "labelOverlap": false}},
  "y2": {"field": "hi"}
 }},
{"transform": [{"filter": "datum.k == 'b'"}],
 "mark": {"type": "tick", "orient": "horizontal", "color": "#3a62c6", "size": 4, "thickness": 1.5},
 "encoding": {
  "x": {"field": "a", "type": "quantitative", "title": null, "scale": {"domain": [-1.12, 21.12], "nice": false, "zero": false, "padding": 0},
        "axis": {"values": [0,1,2,3,4,5,6,7,8,9,10,11,12,13,14,15,16,17,18,19,20], "format": "d", "title": null, "labelAngle": 45, "labelAlign": "left", "labelBaseline": "top", "labelOverlap": false, "labelFlush": false, "labelBound": false, "tickSize": 9, "tickOffset": 0, "tickColor": "#a8a8a8", "domain": false, "grid": false, "labelFont": "Liberation Sans", "labelFontSize": 18, "labelColor": "#333", "labelPadding": 3}},
  "y": {"field": "hi", "type": "quantitative", "title": null, "scale": {"domain": [-6.5, 117.2], "nice": false, "zero": false, "padding": 0},
        "axis": {"values": [0,20,40,60,80,100], "title": null, "tickSize": 9, "tickColor": "#a8a8a8", "domain": false, "grid": false, "labelFont": "Liberation Sans", "labelFontSize": 20, "labelColor": "#333", "labelPadding": 5, "labelOverlap": false}}
 }},
{"transform": [{"filter": "datum.k == 'b'"}],
 "mark": {"type": "tick", "orient": "horizontal", "color": "#3a62c6", "size": 4, "thickness": 1.5},
 "encoding": {
  "x": {"field": "a", "type": "quantitative", "title": null, "scale": {"domain": [-1.12, 21.12], "nice": false, "zero": false, "padding": 0},
        "axis": {"values": [0,1,2,3,4,5,6,7,8,9,10,11,12,13,14,15,16,17,18,19,20], "format": "d", "title": null, "labelAngle": 45, "labelAlign": "left", "labelBaseline": "top", "labelOverlap": false, "labelFlush": false, "labelBound": false, "tickSize": 9, "tickOffset": 0, "tickColor": "#a8a8a8", "domain": false, "grid": false, "labelFont": "Liberation Sans", "labelFontSize": 18, "labelColor": "#333", "labelPadding": 3}},
  "y": {"field": "lo", "type": "quantitative", "title": null, "scale": {"domain": [-6.5, 117.2], "nice": false, "zero": false, "padding": 0},
        "axis": {"values": [0,20,40,60,80,100], "title": null, "tickSize": 9, "tickColor": "#a8a8a8", "domain": false, "grid": false, "labelFont": "Liberation Sans", "labelFontSize": 20, "labelColor": "#333", "labelPadding": 5, "labelOverlap": false}}
 }},
{"transform": [{"filter": "datum.k == 'b'"}],
 "mark": {"type": "bar", "size": 7, "fill": "#b8bfcb", "stroke": "#2a2a2a", "strokeWidth": 1.2},
 "encoding": {
  "x": {"field": "a", "type": "quantitative", "title": null, "scale": {"domain": [-1.12, 21.12], "nice": false, "zero": false, "padding": 0},
        "axis": {"values": [0,1,2,3,4,5,6,7,8,9,10,11,12,13,14,15,16,17,18,19,20], "format": "d", "title": null, "labelAngle": 45, "labelAlign": "left", "labelBaseline": "top", "labelOverlap": false, "labelFlush": false, "labelBound": false, "tickSize": 9, "tickOffset": 0, "tickColor": "#a8a8a8", "domain": false, "grid": false, "labelFont": "Liberation Sans", "labelFontSize": 18, "labelColor": "#333", "labelPadding": 3}},
  "y": {"field": "q1", "type": "quantitative", "title": null, "scale": {"domain": [-6.5, 117.2], "nice": false, "zero": false, "padding": 0},
        "axis": {"values": [0,20,40,60,80,100], "title": null, "tickSize": 9, "tickColor": "#a8a8a8", "domain": false, "grid": false, "labelFont": "Liberation Sans", "labelFontSize": 20, "labelColor": "#333", "labelPadding": 5, "labelOverlap": false}},
  "y2": {"field": "q3"}
 }},
{"transform": [{"filter": "datum.k == 'b'"}],
 "mark": {"type": "tick", "orient": "horizontal", "color": "#3a62c6", "size": 7, "thickness": 1.5},
 "encoding": {
  "x": {"field": "a", "type": "quantitative", "title": null, "scale": {"domain": [-1.12, 21.12], "nice": false, "zero": false, "padding": 0},
        "axis": {"values": [0,1,2,3,4,5,6,7,8,9,10,11,12,13,14,15,16,17,18,19,20], "format": "d", "title": null, "labelAngle": 45, "labelAlign": "left", "labelBaseline": "top", "labelOverlap": false, "labelFlush": false, "labelBound": false, "tickSize": 9, "tickOffset": 0, "tickColor": "#a8a8a8", "domain": false, "grid": false, "labelFont": "Liberation Sans", "labelFontSize": 18, "labelColor": "#333", "labelPadding": 3}},
  "y": {"field": "med", "type": "quantitative", "title": null, "scale": {"domain": [-6.5, 117.2], "nice": false, "zero": false, "padding": 0},
        "axis": {"values": [0,20,40,60,80,100], "title": null, "tickSize": 9, "tickColor": "#a8a8a8", "domain": false, "grid": false, "labelFont": "Liberation Sans", "labelFontSize": 20, "labelColor": "#333", "labelPadding": 5, "labelOverlap": false}}
 }},
{"transform": [{"filter": "datum.k == 'o'"}],
 "mark": {"type": "point", "shape": "circle", "filled": false, "stroke": "#2a2a2a", "strokeWidth": 1.3, "size": 30, "opacity": 1},
 "encoding": {
  "x": {"field": "a", "type": "quantitative", "title": null, "scale": {"domain": [-1.12, 21.12], "nice": false, "zero": false, "padding": 0},
        "axis": {"values": [0,1,2,3,4,5,6,7,8,9,10,11,12,13,14,15,16,17,18,19,20], "format": "d", "title": null, "labelAngle": 45, "labelAlign": "left", "labelBaseline": "top", "labelOverlap": false, "labelFlush": false, "labelBound": false, "tickSize": 9, "tickOffset": 0, "tickColor": "#a8a8a8", "domain": false, "grid": false, "labelFont": "Liberation Sans", "labelFontSize": 18, "labelColor": "#333", "labelPadding": 3}},
  "y": {"field": "v", "type": "quantitative", "title": null, "scale": {"domain": [-6.5, 117.2], "nice": false, "zero": false, "padding": 0},
        "axis": {"values": [0,20,40,60,80,100], "title": null, "tickSize": 9, "tickColor": "#a8a8a8", "domain": false, "grid": false, "labelFont": "Liberation Sans", "labelFontSize": 20, "labelColor": "#333", "labelPadding": 5, "labelOverlap": false}}
 }},
{"transform": [{"filter": "datum.k == 'b'"}],
 "mark": {"type": "point", "shape": "diamond", "filled": false, "stroke": "#3a5fc8", "strokeWidth": 1.6, "size": 230, "opacity": 1},
 "encoding": {
  "x": {"field": "a", "type": "quantitative", "title": null, "scale": {"domain": [-1.12, 21.12], "nice": false, "zero": false, "padding": 0},
        "axis": {"values": [0,1,2,3,4,5,6,7,8,9,10,11,12,13,14,15,16,17,18,19,20], "format": "d", "title": null, "labelAngle": 45, "labelAlign": "left", "labelBaseline": "top", "labelOverlap": false, "labelFlush": false, "labelBound": false, "tickSize": 9, "tickOffset": 0, "tickColor": "#a8a8a8", "domain": false, "grid": false, "labelFont": "Liberation Sans", "labelFontSize": 18, "labelColor": "#333", "labelPadding": 3}},
  "y": {"field": "mean", "type": "quantitative", "title": null, "scale": {"domain": [-6.5, 117.2], "nice": false, "zero": false, "padding": 0},
        "axis": {"values": [0,20,40,60,80,100], "title": null, "tickSize": 9, "tickColor": "#a8a8a8", "domain": false, "grid": false, "labelFont": "Liberation Sans", "labelFontSize": 20, "labelColor": "#333", "labelPadding": 5, "labelOverlap": false}}
 }}
]
},
"config": {"view": {"stroke": null}, "font": "Liberation Sans"}
}
